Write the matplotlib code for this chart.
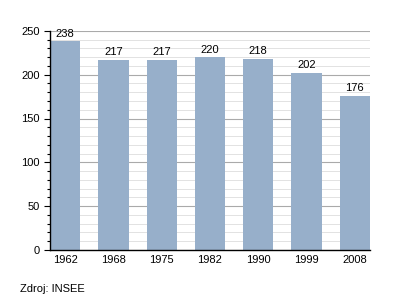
import matplotlib
matplotlib.use('Agg')
import matplotlib.pyplot as plt
from matplotlib.ticker import MultipleLocator

plt.rcParams['font.family'] = ['Liberation Sans', 'DejaVu Sans']

years = ['1962', '1968', '1975', '1982', '1990', '1999', '2008']
population = [238, 217, 217, 220, 218, 202, 176]

fig = plt.figure(figsize=(4, 3), dpi=100)
ax = fig.add_axes([0.125, 0.167, 0.80, 0.73])

x = range(len(years))
ax.bar(x, population, width=0.63, color='#97afca', zorder=2)
for xi, v in zip(x, population):
    ax.text(xi, v + 3, str(v), ha='center', va='bottom', fontsize=8)

ax.set_xlim(-0.315, len(years) - 1 + 0.315)
ax.set_ylim(0, 250)
ax.set_xticks(list(x))
ax.set_xticklabels(years, fontsize=8)
ax.yaxis.set_major_locator(MultipleLocator(50))
ax.yaxis.set_minor_locator(MultipleLocator(10))
ax.tick_params(axis='y', labelsize=8, length=4, width=0.8)
ax.tick_params(axis='y', which='minor', length=2.5, width=0.8)
ax.tick_params(axis='x', length=0, pad=4)

ax.grid(True, axis='y', which='major', color='#aaaaaa', linewidth=0.8, zorder=0)
ax.grid(True, axis='y', which='minor', color='#dddddd', linewidth=0.6, zorder=0)
ax.set_axisbelow(True)

for s in ['top', 'right']:
    ax.spines[s].set_visible(False)
ax.spines['left'].set_linewidth(1)
ax.spines['bottom'].set_linewidth(1)

fig.text(0.05, 0.025, 'Zdroj: INSEE', fontsize=8)

fig.savefig('out.png', dpi=100)
plt.close()
